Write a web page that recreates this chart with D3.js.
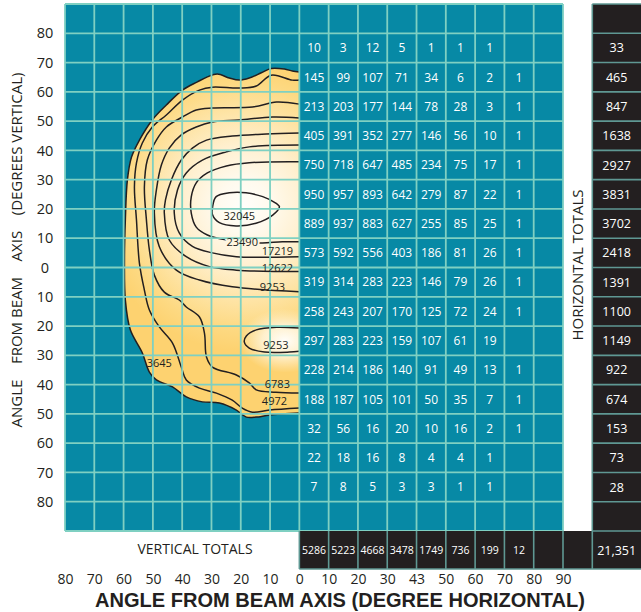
<!DOCTYPE html>
<html>
<head>
<meta charset="utf-8">
<script src="https://cdn.jsdelivr.net/npm/d3@7"></script>
<style>
body { margin: 0; background: #fff; }
.num { font-family: "Liberation Sans Narrow", "Open Sans", sans-serif; }
.lbl { font-family: "Open Sans", "Liberation Sans", sans-serif; }
</style>
</head>
<body>
<svg id="chart" width="641" height="612"></svg>
<script>
// ---- axis ticks (degrees) ----
var hTicks      = [-80,-70,-60,-50,-40,-30,-20,-10,0,10,20,30,40,50,60,70,80,90];
var hTickLabels = ["80","70","60","50","40","30","20","10","0","10","20","30","43","50","60","70","80","90"];
var vTicks      = [80,70,60,50,40,30,20,10,0,-10,-20,-30,-40,-50,-60,-70,-80];
var vTickLabels = ["80","70","60","50","40","30","20","10","0","10","20","30","40","50","60","70","80"];

// ---- table: column / row centres (degrees) ----
var colCenters = [5,15,25,35,45,55,65,75];
var rowCenters = [75,65,55,45,35,25,15,5,-5,-15,-25,-35,-45,-55,-65,-75];

var cellCounts = [
  [10,3,12,5,1,1,1,null],
  [145,99,107,71,34,6,2,1],
  [213,203,177,144,78,28,3,1],
  [405,391,352,277,146,56,10,1],
  [750,718,647,485,234,75,17,1],
  [950,957,893,642,279,87,22,1],
  [889,937,883,627,255,85,25,1],
  [573,592,556,403,186,81,26,1],
  [319,314,283,223,146,79,26,1],
  [258,243,207,170,125,72,24,1],
  [297,283,223,159,107,61,19,null],
  [228,214,186,140,91,49,13,1],
  [188,187,105,101,50,35,7,1],
  [32,56,16,20,10,16,2,1],
  [22,18,16,8,4,4,1,null],
  [7,8,5,3,3,1,1,null]
];
var horizontalTotals = [33,465,847,1638,2927,3831,3702,2418,1391,1100,1149,922,674,153,73,28];
var verticalTotals   = [5286,5223,4668,3478,1749,736,199,12];
var grandTotal = "21,351";

// ---- contour lines, [horizontal deg, vertical deg] ----
var contour3645 = [[0,66.8],[-2.4,67.1],[-5.1,67.8],[-9.6,68],[-13,66.5],[-17.1,64.7],[-20.5,64],[-23.9,64.7],[-28,66.1],[-31.4,65.1],[-34.8,63.4],[-39.9,60.6],[-45.4,55.5],[-50.2,50.4],[-54.6,43.5],[-57.3,37.7],[-58.7,29.9],[-59.4,16.2],[-59.7,2.6],[-59.4,-11.1],[-57.7,-21.3],[-53.6,-29.2],[-51.2,-35.7],[-48.8,-38.4],[-43.3,-40.8],[-38.6,-44.2],[-33.1,-45.9],[-27.3,-46.3],[-21.5,-48.7],[-18.1,-51.1],[-14.7,-51.1],[-10.2,-50.4],[0,-49.7]];
var contour4972 = [[0,64],[-2.4,64],[-9.6,65.7],[-14.7,62],[-20.5,61.3],[-29.7,61.6],[-34.1,60.6],[-39.9,57.2],[-45.4,52.1],[-50.2,48],[-53.6,42.5],[-55.6,35.7],[-56.3,27.5],[-55.6,16.2],[-54.6,1.5],[-52.9,-7.7],[-51.2,-14.5],[-47.8,-20.3],[-43.3,-25.8],[-40.3,-34],[-38.6,-38.4],[-34.1,-41.2],[-28.3,-42.9],[-22.9,-45.3],[-19.5,-48],[-16,-49.4],[-10.2,-48.7],[0,-48]];
var contour6783 = [[0,55.8],[-7.8,56.5],[-16,54.8],[-29.7,54.5],[-35.2,53.8],[-39.9,51.4],[-45.4,48],[-48.8,43.5],[-51.9,36.7],[-52.9,27.5],[-52.2,16.2],[-51.2,6],[-49.5,-2.6],[-46.1,-8.4],[-41,-11.1],[-38.6,-13.5],[-34.1,-16.9],[-32.4,-22.4],[-31.7,-30.6],[-29.7,-34],[-21.5,-36.7],[-17.1,-39.4],[-14.7,-41.8],[-8,-42.6],[0,-42.9]];
var contour9253 = [[0,51.1],[-9.2,51.4],[-20.5,50.4],[-29.7,49.7],[-35.2,48],[-40.3,45.3],[-44.4,40.8],[-47.1,35],[-48.8,26.5],[-49.5,18.6],[-47.8,7.1],[-42,-0.9],[-34.1,-4.3],[-22.9,-6.6],[0,-8.3]];
var contour12622 = [[0,45.9],[-11.3,45.6],[-22.9,44.9],[-31.7,43.5],[-36.5,40.8],[-40.3,36.7],[-43.7,29.9],[-45.7,23.1],[-46.1,18.6],[-44.4,9.4],[-38.6,3.7],[-30.7,0.3],[-21.5,-0.9],[0,-1.4]];
var contour17219 = [[0,41.8],[-17.1,41.2],[-24.9,39.5],[-33.1,36.7],[-38.6,32.3],[-41.6,26.5],[-42.7,18.6],[-41,11.8],[-36.5,7.2],[-29.7,5],[-21.5,3.7],[-13.7,3.5],[0,3.7]];
var contour23490 = [[0,36.1],[-17.1,35.8],[-24.9,34.7],[-31.4,32.3],[-35.2,28.9],[-36.9,24.1],[-36.9,18.6],[-35.2,13.8],[-31.4,11.1],[-26.6,9.7],[-18.8,8.7],[-12.6,8.4],[-5.8,8.8],[0,8.8]];
var contour32045 = [[-29.6,20.8],[-28.4,24.2],[-23.9,25.5],[-18.2,25.5],[-12.5,24.2],[-7.9,21.9],[-6.8,20.8],[-9.1,17.9],[-14.8,15.1],[-21.6,14.2],[-27.3,15.3],[-29.6,17.9]];
var contour9253low = [[0,-20.7],[-7.8,-20.4],[-14.7,-21.3],[-18.1,-23.4],[-18.8,-25.4],[-17.1,-27.5],[-11.9,-28.9],[-3.4,-28.9],[0,-28.6]];

var contourLabels = [
  {text: "32045", h: -20.5, v: 17.6},
  {text: "23490", h: -19.5, v: 8.8, inline: true},
  {text: "17219", h: -7.5,  v: 5.6},
  {text: "12622", h: -7.5,  v: -0.2},
  {text: "9253",  h: -9.2,  v: -6.7},
  {text: "9253",  h: -8.0,  v: -26.5},
  {text: "6783",  h: -7.5,  v: -39.8},
  {text: "4972",  h: -8.5,  v: -45.8},
  {text: "3645",  h: -47.8, v: -32.5}
];

var svg = d3.select("#chart");
var W = +svg.attr("width");

var x = d3.scaleLinear().domain([-80, 90]).range([65, 563]);
var y = d3.scaleLinear().domain([90, -90]).range([4, 531]);

var teal = "#0789a5", gridCol = "#7fd0c2", ink = "#231f20", sepCol = "#5f9893";

// teal panel
svg.append("rect")
    .attr("x", x(-80)).attr("y", y(90))
    .attr("width", x(90) - x(-80)).attr("height", y(-90) - y(90))
    .attr("fill", teal);

// gradients
var defs = svg.append("defs");
var g1 = defs.append("radialGradient").attr("id", "blobGrad")
    .attr("gradientUnits", "userSpaceOnUse")
    .attr("cx", x(-19)).attr("cy", y(21)).attr("r", 145);
[[0,"#fffefa"],[0.18,"#fffaee"],[0.42,"#fff0d0"],[0.65,"#fee4a6"],[0.85,"#fdd982"],[1,"#fdd270"]]
  .forEach(function(s){ g1.append("stop").attr("offset", s[0]).attr("stop-color", s[1]); });
var g2 = defs.append("radialGradient").attr("id", "spotGrad");
g2.append("stop").attr("offset", 0).attr("stop-color", "#fffefa").attr("stop-opacity", 1);
g2.append("stop").attr("offset", 0.5).attr("stop-color", "#fff6e0").attr("stop-opacity", 0.8);
g2.append("stop").attr("offset", 1).attr("stop-color", "#fff0d0").attr("stop-opacity", 0);

defs.append("clipPath").attr("id", "leftclip")
  .append("rect")
    .attr("x", x(-80)).attr("y", y(90))
    .attr("width", x(0) - x(-80)).attr("height", y(-90) - y(90));

var line = d3.line()
    .x(function(d){ return x(d[0]); })
    .y(function(d){ return y(d[1]); })
    .curve(d3.curveCatmullRom.alpha(0.5));
var closedLine = d3.line()
    .x(function(d){ return x(d[0]); })
    .y(function(d){ return y(d[1]); })
    .curve(d3.curveCatmullRomClosed.alpha(0.5));

var blob = svg.append("g").attr("clip-path", "url(#leftclip)");
defs.append("clipPath").attr("id", "blobclip")
  .append("path").attr("d", line(contour3645) + "Z");

blob.append("path")
    .attr("d", line(contour3645) + "Z")
    .attr("fill", "url(#blobGrad)");

blob.append("ellipse")
    .attr("clip-path", "url(#blobclip)")
    .attr("cx", x(-5)).attr("cy", y(-25))
    .attr("rx", 45).attr("ry", 32)
    .attr("fill", "url(#spotGrad)");

[contour3645, contour4972, contour6783, contour9253, contour12622, contour17219, contour23490, contour9253low]
  .forEach(function(c){
    blob.append("path").attr("d", line(c))
        .attr("fill", "none").attr("stroke", ink).attr("stroke-width", 1.5);
  });
blob.append("path").attr("d", closedLine(contour32045))
    .attr("fill", "none").attr("stroke", ink).attr("stroke-width", 1.5);

// label sitting on its own line: mask the line behind it
svg.append("g").selectAll("text").data(contourLabels.filter(function(d){ return d.inline; })).join("text")
    .attr("class", "lbl")
    .attr("x", function(d){ return x(d.h); })
    .attr("y", function(d){ return y(d.v); })
    .attr("dy", "0.35em")
    .attr("text-anchor", "middle")
    .attr("font-size", 11)
    .attr("fill", "#fff5e0").attr("stroke", "#fff5e0").attr("stroke-width", 4)
    .text(function(d){ return d.text; });

// grid lines
var grid = svg.append("g").attr("stroke", gridCol).attr("stroke-width", 1.8);
d3.range(-80, 91, 10).forEach(function(h){
  grid.append("line").attr("x1", x(h)).attr("x2", x(h)).attr("y1", y(90)).attr("y2", y(-90));
});
d3.range(90, -91, -10).forEach(function(v){
  grid.append("line").attr("x1", x(-80)).attr("x2", x(90)).attr("y1", y(v)).attr("y2", y(v));
});

// contour labels
svg.append("g").selectAll("text").data(contourLabels).join("text")
    .attr("class", "lbl")
    .attr("x", function(d){ return x(d.h); })
    .attr("y", function(d){ return y(d.v); })
    .attr("dy", "0.35em")
    .attr("text-anchor", "middle")
    .attr("font-size", 11)
    .attr("fill", ink)
    .text(function(d){ return d.text; });

// cell counts
var cells = svg.append("g").attr("class", "num").attr("fill", "#fff")
    .attr("font-size", 12).attr("text-anchor", "middle");
cellCounts.forEach(function(row, i){
  row.forEach(function(val, j){
    if (val === null) return;
    cells.append("text")
        .attr("x", x(colCenters[j]))
        .attr("y", y(rowCenters[i]))
        .attr("dy", "0.36em")
        .text(val);
  });
});

// horizontal totals column
var hx0 = x(100);
svg.append("rect").attr("x", hx0).attr("y", y(90))
    .attr("width", W - hx0).attr("height", y(-90) - y(90)).attr("fill", ink);
// vertical totals row
svg.append("rect").attr("x", x(0)).attr("y", y(-90))
    .attr("width", W - x(0)).attr("height", y(-103) - y(-90)).attr("fill", ink);

var seps = svg.append("g").attr("stroke", sepCol).attr("stroke-width", 1.6);
d3.range(90, -91, -10).forEach(function(v){
  seps.append("line").attr("x1", hx0).attr("x2", W).attr("y1", y(v)).attr("y2", y(v));
});
seps.append("line").attr("x1", hx0).attr("x2", hx0).attr("y1", y(90)).attr("y2", y(-103));
d3.range(0, 91, 10).forEach(function(h){
  seps.append("line").attr("x1", x(h)).attr("x2", x(h)).attr("y1", y(-90)).attr("y2", y(-103));
});
seps.append("line").attr("x1", x(0)).attr("x2", W).attr("y1", y(-103)).attr("y2", y(-103));

var tot = svg.append("g").attr("class", "num").attr("fill", "#fff").attr("text-anchor", "middle");
horizontalTotals.forEach(function(val, i){
  tot.append("text")
      .attr("x", (hx0 + W) / 2)
      .attr("y", y(rowCenters[i]))
      .attr("dy", "0.36em")
      .attr("font-size", 12.5)
      .text(val);
});
verticalTotals.forEach(function(val, j){
  tot.append("text")
      .attr("x", x(colCenters[j]))
      .attr("y", y(-96.5))
      .attr("dy", "0.36em")
      .attr("font-size", 10.5)
      .text(val);
});
tot.append("text")
    .attr("x", (hx0 + W) / 2)
    .attr("y", y(-96.5))
    .attr("dy", "0.36em")
    .attr("font-size", 12.5)
    .text(grandTotal);

// axes
var xAxis = svg.append("g")
    .attr("transform", "translate(0," + 574 + ")")
    .call(d3.axisBottom(x).tickValues(hTicks)
      .tickFormat(function(d, i){ return hTickLabels[i]; })
      .tickSize(0).tickPadding(0));
xAxis.select(".domain").remove();
xAxis.selectAll("text").attr("class", "lbl").attr("font-size", 14).attr("fill", ink);

var yAxis = svg.append("g")
    .attr("transform", "translate(" + 45 + ",0)")
    .call(d3.axisLeft(y).tickValues(vTicks)
      .tickFormat(function(d, i){ return vTickLabels[i]; })
      .tickSize(0).tickPadding(0));
yAxis.select(".domain").remove();
yAxis.selectAll("text").attr("class", "lbl").attr("font-size", 14.5).attr("fill", ink)
    .attr("text-anchor", "middle").attr("x", 0);

// titles
svg.append("text").attr("class", "lbl")
    .attr("x", 195).attr("y", 549).attr("dy", "0.35em")
    .attr("text-anchor", "middle").attr("font-size", 14).attr("fill", ink)
    .text("VERTICAL TOTALS");

svg.append("text").attr("class", "lbl")
    .attr("transform", "translate(" + ((x(90) + hx0) / 2) + ",265) rotate(-90)")
    .attr("dy", "0.35em")
    .attr("text-anchor", "middle").attr("font-size", 15).attr("fill", ink)
    .text("HORIZONTAL TOTALS");

svg.append("text").attr("class", "lbl")
    .attr("transform", "translate(17,250) rotate(-90)")
    .attr("dy", "0.35em")
    .attr("text-anchor", "middle").attr("font-size", 15).attr("fill", ink)
    .style("white-space", "pre")
    .text("ANGLE    FROM BEAM    AXIS    (DEGREES VERTICAL)");

svg.append("text")
    .attr("x", 95).attr("y", 607)
    .attr("textLength", 490).attr("lengthAdjust", "spacingAndGlyphs")
    .attr("font-family", "'Liberation Sans', Arial, sans-serif")
    .attr("font-weight", "bold").attr("font-size", 20.5).attr("fill", ink)
    .text("ANGLE FROM BEAM AXIS (DEGREE HORIZONTAL)");
</script>
</body>
</html>
